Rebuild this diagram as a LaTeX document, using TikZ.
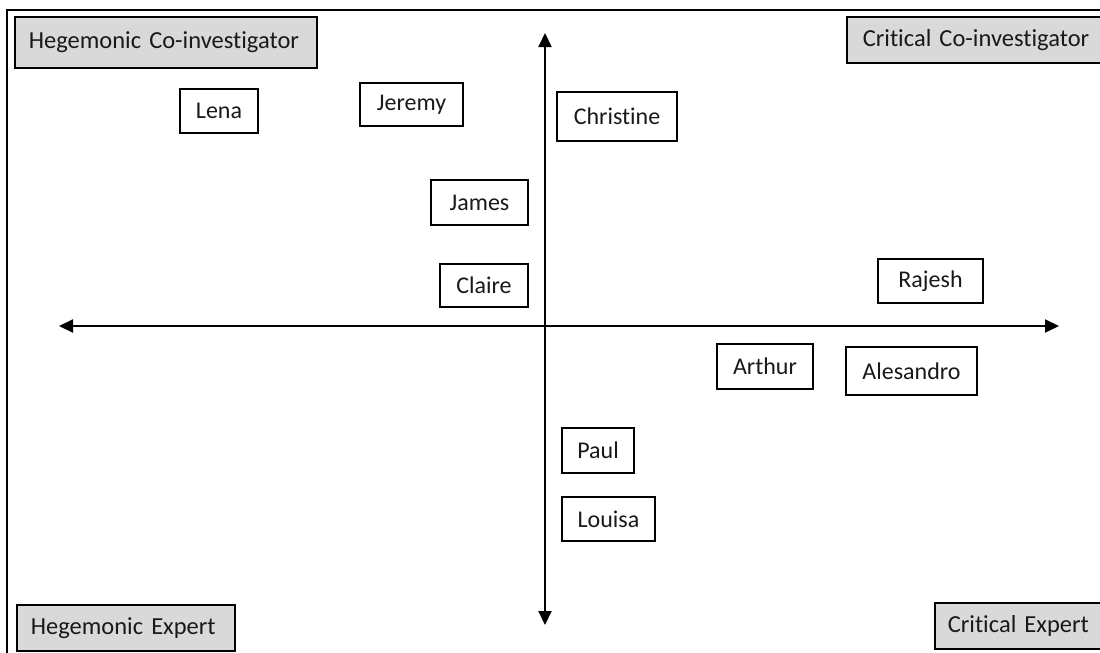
\documentclass[tikz,border=0pt]{standalone}
\usepackage{fontspec}
\setmainfont{Carlito}[Ligatures=NoCommon]
\usetikzlibrary{arrows.meta}
\definecolor{boxgray}{HTML}{D9D9D9}
\begin{document}
\begin{tikzpicture}[x=1pt,y=-1pt,
  namebox/.style={draw=black,line width=1.6pt,fill=white,inner sep=0pt,
    font=\fontsize{24}{27}\selectfont,text=black!90},
  quadbox/.style={draw=black,line width=1.6pt,fill=boxgray,inner ysep=0pt,
    font=\fontsize{24.5}{27}\selectfont,text=black!90,anchor=west,align=left},
  axis/.style={line width=2pt,{Triangle[length=14pt,width=13pt]}-{Triangle[length=14pt,width=13pt]}}]
\useasboundingbox (0,0) rectangle (1100,653);
\clip (0,0) rectangle (1100,653);
\fill[white] (0,0) rectangle (1100,653);
% frame (extends beyond the right and bottom edges)
\draw[line width=1.5pt] (7,10) rectangle (1120,680);
% axes
\coordinate (vtop) at (545,33);
\coordinate (vbot) at (545,625);
\coordinate (hleft) at (59,326);
\coordinate (hright) at (1059,326);
\draw[axis] (vbot) -- (vtop);
\draw[axis] (hleft) -- (hright);
% quadrant labels
\node[quadbox,inner xsep=14pt,text width=274pt,minimum height=51pt] (hci) at (14,42.5) {Hegemonic Co-investigator};
\node[quadbox,inner xsep=16pt,text width=240pt,minimum height=46pt] (cci) at (846,40) {Critical Co-investigator};
\node[quadbox,inner xsep=14pt,text width=190pt,minimum height=46pt] (he) at (16,628) {Hegemonic Expert};
\node[quadbox,inner xsep=13pt,text width=160pt,minimum height=46pt] (ce) at (934,626) {Critical Expert};
% names
\node[namebox,minimum width=78pt,minimum height=44pt] (lena) at (219,111) {Lena};
\node[namebox,minimum width=103pt,minimum height=43pt] (jeremy) at (411.5,104.5) {Jeremy};
\node[namebox,minimum width=120pt,minimum height=49pt] (christine) at (617,116.5) {Christine};
\node[namebox,minimum width=97pt,minimum height=45pt] (james) at (479.5,202.5) {James};
\node[namebox,minimum width=88pt,minimum height=43pt] (claire) at (484,285.5) {Claire};
\node[namebox,minimum width=105pt,minimum height=44pt] (rajesh) at (930.5,281) {Rajesh};
\node[namebox,minimum width=96pt,minimum height=45pt] (arthur) at (765,366.5) {Arthur};
\node[namebox,minimum width=131pt,minimum height=48pt] (alesandro) at (911.5,371) {Alesandro};
\node[namebox,minimum width=72pt,minimum height=45pt] (paul) at (598,450.5) {Paul};
\node[namebox,minimum width=93pt,minimum height=44pt] (louisa) at (608.5,519) {Louisa};
\end{tikzpicture}
\end{document}
